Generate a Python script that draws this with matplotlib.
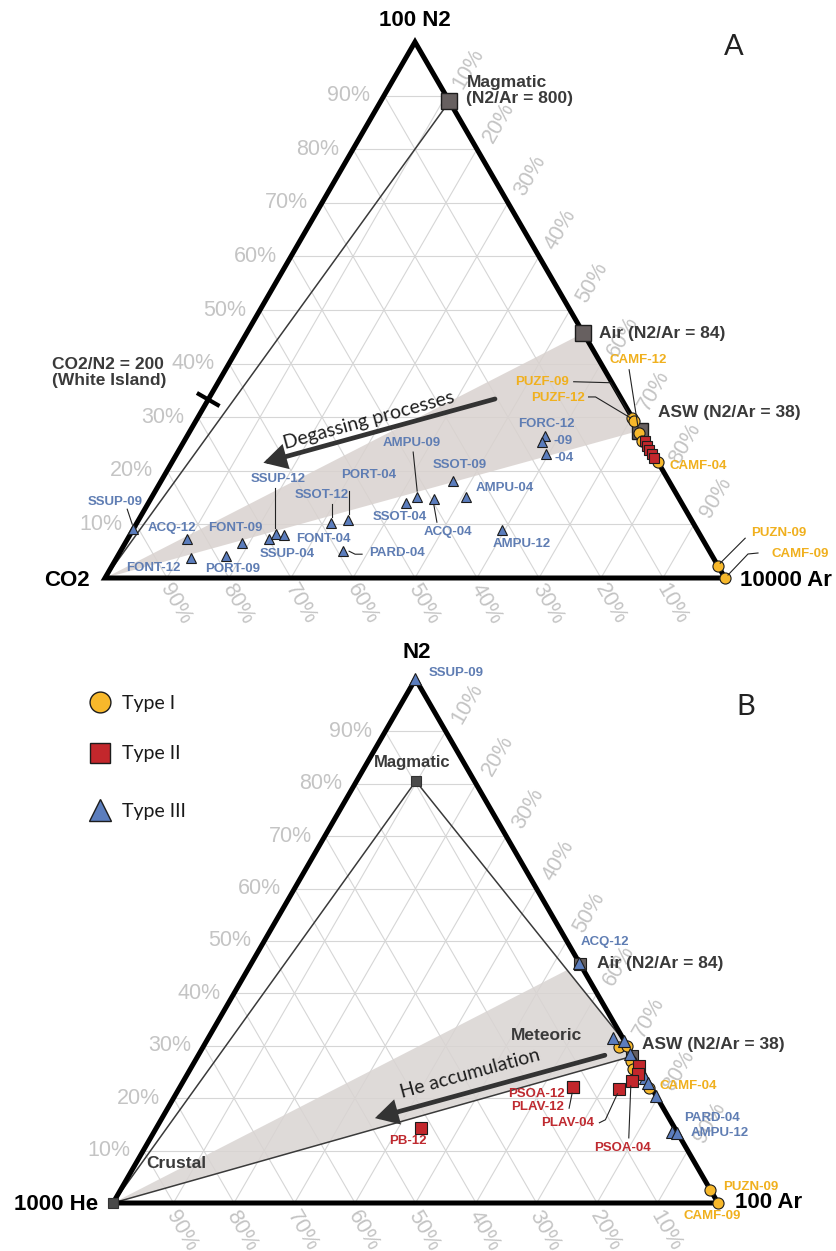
import numpy as np
import matplotlib
matplotlib.use('Agg')
import matplotlib.pyplot as plt
from matplotlib.patches import Polygon, FancyArrowPatch

# ------------------------------------------------------------------ data
# Panel A : CO2 - 100*N2 - 10000*Ar  (percent; CO2 = 100 - N2 - Ar)
A3_names = ['SSUP-09', 'ACQ-12', 'FONT-12', 'FONT-09', 'PORT-09', 'SSUP-04', 'SSUP-12',
            'FONT-04', 'SSOT-12', 'PORT-04', 'PARD-04', 'SSOT-04', 'AMPU-09', 'ACQ-04',
            'SSOT-09', 'AMPU-04', 'AMPU-12', 'FORC-12', '-09', '-04']
A3_n2 = [9.1, 7.3, 3.7, 6.5, 4.1, 7.3, 8.2, 8.0, 10.3, 10.8, 5.0, 14.0, 15.1, 14.7,
         18.1, 15.1, 9.0, 26.5, 25.4, 23.1]
A3_ar = [0.0, 9.6, 12.0, 18.8, 17.5, 22.8, 23.5, 24.9, 31.3, 33.8, 35.9, 41.5, 42.8, 45.7,
         47.1, 50.7, 59.5, 57.7, 57.8, 59.6]

A1_names = ['PUZF-09', 'PUZF-12', 'CAMF-12', '', 'CAMF-04', 'PUZN-09', 'CAMF-09']
A1_n2 = [29.9, 29.3, 27.1, 25.6, 21.6, 2.2, 0.0]
A1_ar = [70.0, 70.6, 72.6, 73.8, 78.4, 97.8, 100.0]

A2_n2 = [25.5, 24.7, 23.9, 23.1, 22.4]
A2_ar = [74.3, 75.0, 75.8, 76.6, 77.3]

A_ref_names = ['Magmatic', 'Air', 'ASW']
A_ref_n2 = [88.9, 45.7, 27.5]
A_ref_ar = [11.1, 54.3, 72.5]
A_white_island_n2 = 33.3

# Panel B : 1000*He - N2 - 100*Ar  (percent; He = 100 - N2 - Ar)
B3_names = ['SSUP-09', 'ACQ-12', '', '', '', '', '', '', '', 'PARD-04', 'AMPU-12']
B3_n2 = [100.0, 45.8, 31.5, 30.9, 28.4, 26.0, 23.9, 22.9, 20.4, 13.5, 13.4]
B3_ar = [0.0, 54.2, 66.9, 69.0, 71.2, 73.8, 76.0, 77.0, 79.6, 85.6, 86.6]

B1_names = ['', '', '', '', 'CAMF-04', 'PUZN-09', 'CAMF-09']
B1_n2 = [29.8, 30.0, 27.1, 25.6, 21.9, 2.5, 0.0]
B1_ar = [68.7, 70.0, 72.1, 73.2, 77.6, 97.5, 100.0]

B2_names = ['', '', 'PSOA-04', 'PLAV-04', 'PSOA-12', 'PLAV-12', 'PB-12']
B2_n2 = [26.1, 24.6, 23.3, 21.8, 22.1, 22.1, 14.3]
B2_ar = [73.9, 74.5, 74.1, 72.8, 65.0, 65.0, 43.8]

B_ref_names = ['Magmatic', 'Air', 'ASW', 'Meteoric', 'Crustal']
B_ref_n2 = [80.5, 45.7, 28.0, 30.5, 0.0]
B_ref_ar = [9.8, 54.3, 71.8, 69.5, 0.0]

tick_values = [10, 20, 30, 40, 50, 60, 70, 80, 90]

# ------------------------------------------------------------------ style
BLUE_F, BLUE_T = '#5b7dbd', '#5f7db3'
YEL_F, YEL_T = '#f7b82b', '#f0b01e'
RED_F, RED_T = '#c3272c', '#bf2a30'
REF_F = '#676060'
EDGE = '#1c1c1c'
GRID = '#d6d6d6'
TICK = '#c4c4c4'
ANN = '#3a3a3a'
BOLD = 'Liberation Sans'
CAL = 'Lato'

W, H = 837, 1251
fig = plt.figure(figsize=(W / 100, H / 100), dpi=100)
fig.patch.set_facecolor('white')
ax = fig.add_axes([0, 0, 1, 1])
ax.set_xlim(0, W)
ax.set_ylim(H, 0)
ax.axis('off')

VA = {'L': (105, 578), 'T': (415, 42), 'R': (725, 578)}
VB = {'L': (113, 1203), 'T': (415.5, 679), 'R': (718, 1203)}


def tpos(V, n2, ar):
    n = np.asarray(n2, float) / 100.0
    a = np.asarray(ar, float) / 100.0
    c = 1 - n - a
    x = c * V['L'][0] + n * V['T'][0] + a * V['R'][0]
    y = c * V['L'][1] + n * V['T'][1] + a * V['R'][1]
    return x, y


def frame(V, left_off, right_off, bot_off):
    for f in tick_values:
        for n2s, ars in (([f, f], [0, 100 - f]), ([0, 100 - f], [f, f]),
                         ([0, 100 - f], [100 - f, 0])):
            x, y = tpos(V, n2s, ars)
            ax.plot(x, y, color=GRID, lw=0.8, zorder=1)
        x, y = tpos(V, f, 0)
        ax.text(x + left_off[0], y + left_off[1], f'{f}%', ha='right', va='center',
                fontsize=15.5, color=TICK, family=BOLD, zorder=1)
        x, y = tpos(V, 100 - f, f)
        ax.text(x + right_off[0], y + right_off[1], f'{f}%', ha='center', va='center',
                rotation=60, fontsize=15.5, color=TICK, family=BOLD, zorder=1)
        x, y = tpos(V, 0, 100 - f)
        ax.text(x + bot_off[0], y + bot_off[1], f'{f}%', ha='center', va='center',
                rotation=-60, fontsize=15.5, color=TICK, family=BOLD, zorder=1)
    pts = np.array([V['L'], V['T'], V['R']])
    ax.add_patch(Polygon(pts, closed=True, fill=False, ec='black', lw=3.6,
                         joinstyle='miter', zorder=3))


def pts_plot(V, n2, ar, marker, ms, fc, z):
    x, y = tpos(V, n2, ar)
    ax.plot(x, y, ls='none', marker=marker, ms=ms, mfc=fc, mec=EDGE, mew=0.8, zorder=z)
    return x, y


def labels(xs, ys, layout, color, fs=9.5):
    for (x, y), item in zip(zip(xs, ys), layout):
        if item is None:
            continue
        text, dx, dy, ha, leader = item
        ax.text(x + dx, y + dy, text, ha=ha, va='center', fontsize=fs, color=color,
                family=BOLD, fontweight='bold', zorder=8)
        if leader:
            lx = [x + p[0] for p in leader]
            ly = [y + p[1] for p in leader]
            ax.plot(lx, ly, color='#222222', lw=0.8, zorder=7)


def arrow_with_text(V, tail, tip, text, toff):
    xt, yt = tpos(V, tail[0], tail[1])
    xh, yh = tpos(V, tip[0], tip[1])
    ax.add_patch(FancyArrowPatch((xt, yt), (xh, yh),
                                 arrowstyle='-|>,head_length=0.9,head_width=0.5',
                                 mutation_scale=13, lw=3.4, color='#333333',
                                 joinstyle='miter', shrinkA=0, shrinkB=0, zorder=6))
    ang = np.degrees(np.arctan2(-(yt - yh), xt - xh))
    ax.text((xt + xh) / 2 + toff[0], (yt + yh) / 2 + toff[1], text, rotation=ang,
            rotation_mode='anchor', ha='center', va='center', fontsize=14,
            family=CAL, color='#1e1e1e', zorder=6)

# ================================================================= Panel A
frame(VA, (-14, 0), (22, -27), (9, 26))
rx, ry = tpos(VA, A_ref_n2, A_ref_ar)
# shaded degassing wedge: CO2 vertex - Air - ASW
ax.add_patch(Polygon([VA['L'], (rx[1], ry[1]), (rx[2], ry[2])], closed=True,
                     fc='#d9d2cf', ec='none', alpha=0.85, zorder=2))
# magmatic mixing line
ax.plot([VA['L'][0], rx[0]], [VA['L'][1], ry[0]], color='#3a3a3a', lw=1.1, zorder=2)
# White Island tick
wx, wy = tpos(VA, A_white_island_n2, 0)
perp = np.array([0.866, 0.5]) * 11
ax.plot([wx - perp[0], wx + perp[0]], [wy - perp[1], wy + perp[1]], color='black',
        lw=3, zorder=4)
ax.text(wx - 156, wy - 27, 'CO2/N2 = 200\n(White Island)', ha='left', va='center',
        fontsize=12.5, fontweight='bold', family=BOLD, color=ANN, linespacing=1.15,
        zorder=6)

arrow_with_text(VA, (33.4, 46.2), (21.5, 14.8), 'Degassing processes', (-10, -11))

ax.plot(rx, ry, ls='none', marker='s', ms=12, mfc=REF_F, mec=EDGE, mew=1.0, zorder=4)
ax.text(rx[0] + 17, ry[0] - 11, 'Magmatic\n(N2/Ar = 800)', ha='left', va='center',
        fontsize=12.5, fontweight='bold', family=BOLD, color=ANN, linespacing=1.1,
        zorder=6)
ax.text(rx[1] + 16, ry[1], 'Air (N2/Ar = 84)', ha='left', va='center', fontsize=12.5,
        fontweight='bold', family=BOLD, color=ANN, zorder=6)
ax.text(rx[2] + 18, ry[2] - 18, 'ASW (N2/Ar = 38)', ha='left', va='center',
        fontsize=12.5, fontweight='bold', family=BOLD, color=ANN, zorder=6)

x3, y3 = pts_plot(VA, A3_n2, A3_ar, '^', 7.5, BLUE_F, 5)
A3_layout = [
    ('SSUP-09', -18, -27, 'center', [(-6, -20), (-1, -5)]),
    ('ACQ-12', -15, -11, 'center', None),
    ('FONT-12', -38, 10, 'center', None),
    ('FONT-09', -6, -15, 'center', None),
    ('PORT-09', 6, 13, 'center', None),
    ('SSUP-04', 18, 15, 'center', None),
    ('SSUP-12', 2, -55, 'center', [(-1, -46), (-1, -6)]),
    ('FONT-04', 39, 4, 'center', None),
    ('SSOT-12', -9, -28, 'center', [(1, -19), (1, -6)]),
    ('PORT-04', 21, -45, 'center', [(1, -29), (1, -6)]),
    ('PARD-04', 54, 2, 'center', [(19, 3), (12, 3), (6, 0)]),
    ('SSOT-04', -6, 14, 'center', None),
    ('AMPU-09', -5, -54, 'center', [(-4, -45), (0, -6)]),
    ('ACQ-04', 14, 33, 'center', [(3, 23), (0, 6)]),
    ('SSOT-09', 7, -16, 'center', None),
    ('AMPU-04', 39, -9, 'center', None),
    ('AMPU-12', 20, 14, 'center', None),
    ('FORC-12', 1, -12, 'center', None),
    ('-09', 11, -1, 'left', None),
    ('-04', 8, 4, 'left', None),
]
labels(x3, y3, A3_layout, BLUE_T)

x1, y1 = pts_plot(VA, A1_n2, A1_ar, 'o', 8, YEL_F, 5)
pts_plot(VA, A2_n2, A2_ar, 's', 7, RED_F, 6)
A1_layout = [
    ('PUZF-09', -90, -36, 'center', [(-58, -36), (-21, -35), (-2, -3)]),
    ('PUZF-12', -76, -23, 'center', [(-45, -24), (-38, -24), (-3, -3)]),
    ('CAMF-12', -1, -73, 'center', [(-10, -63), (-1, -5)]),
    None,
    ('CAMF-04', 40, 4, 'center', None),
    ('PUZN-09', 61, -33, 'center', [(27, -28), (2, -3)]),
    ('CAMF-09', 75, -24, 'center', [(33, -25), (23, -24), (3, -3)]),
]
labels(x1, y1, A1_layout, YEL_T)

ax.text(VA['T'][0], VA['T'][1] - 21, '100 N2', ha='center', va='center', fontsize=16,
        fontweight='bold', family=BOLD, color='black', zorder=6)
ax.text(VA['L'][0] - 15, VA['L'][1] + 2, 'CO2', ha='right', va='center', fontsize=16,
        fontweight='bold', family=BOLD, color='black', zorder=6)
ax.text(VA['R'][0] + 15, VA['R'][1] + 2, '10000 Ar', ha='left', va='center',
        fontsize=16, fontweight='bold', family=BOLD, color='black', zorder=6)
ax.text(734, 47, 'A', ha='center', va='center', fontsize=21, family=CAL,
        color='#222222')

# ================================================================= Panel B
frame(VB, (-13, 0), (22, -28), (8, 28))
bx, by = tpos(VB, B_ref_n2, B_ref_ar)
mag, air, asw, met, cru = [(bx[i], by[i]) for i in range(5)]


def intersect(p1, p2, p3, p4):
    p1, p2, p3, p4 = map(np.asarray, (p1, p2, p3, p4))
    d1, d2 = p2 - p1, p4 - p3
    t = np.cross(p3 - p1, d2) / np.cross(d1, d2)
    return p1 + t * d1


xa = intersect(cru, air, mag, met)
ax.add_patch(Polygon([cru, tuple(xa), met, asw], closed=True, fc='#d9d4d2', ec='none',
                     alpha=0.85, zorder=2))
ax.plot([cru[0], mag[0], met[0]], [cru[1], mag[1], met[1]], color='#3a3a3a', lw=1.1,
        zorder=2)
ax.plot([cru[0], asw[0]], [cru[1], asw[1]], color='#3a3a3a', lw=1.1, zorder=2)

arrow_with_text(VB, (28.2, 67.2), (16.2, 35.2), 'He accumulation', (-20, -13))

ax.plot([mag[0], cru[0]], [mag[1], cru[1]], ls='none', marker='s', ms=7, mfc='#4a4a4a',
        mec='#333333', mew=0.8, zorder=4)
ax.plot([air[0], asw[0]], [air[1], asw[1]], ls='none', marker='s', ms=8, mfc=REF_F,
        mec=EDGE, mew=0.8, zorder=4)
ax.text(mag[0] - 4, mag[1] - 19, 'Magmatic', ha='center', va='center', fontsize=12,
        fontweight='bold', family=BOLD, color=ANN, zorder=6)
ax.text(air[0] + 17, air[1], 'Air (N2/Ar = 84)', ha='left', va='center', fontsize=12.5,
        fontweight='bold', family=BOLD, color=ANN, zorder=6)
ax.text(asw[0] + 10, asw[1] - 12, 'ASW (N2/Ar = 38)', ha='left', va='center',
        fontsize=12.5, fontweight='bold', family=BOLD, color=ANN, zorder=6)
ax.text(met[0] - 79, met[1] - 8, 'Meteoric', ha='center', va='center', fontsize=12.5,
        fontweight='bold', family=BOLD, color=ANN, zorder=6)
ax.text(cru[0] + 63, cru[1] - 40, 'Crustal', ha='center', va='center', fontsize=12.5,
        fontweight='bold', family=BOLD, color=ANN, zorder=6)

x1, y1 = pts_plot(VB, B1_n2, B1_ar, 'o', 8, YEL_F, 5)
x2, y2 = pts_plot(VB, B2_n2, B2_ar, 's', 8, RED_F, 5.5)
x3, y3 = pts_plot(VB, B3_n2, B3_ar, '^', 8, BLUE_F, 5.2)

B3_layout = [
    ('SSUP-09', 41, -6, 'center', None),
    ('ACQ-12', 25, -21, 'center', None),
    None, None, None, None, None, None, None,
    ('PARD-04', 40, -14, 'center', None),
    ('AMPU-12', 42, 0, 'center', None),
]
labels(x3, y3, B3_layout, BLUE_T)
B1_layout = [None, None, None, None,
             ('CAMF-04', 40, -2, 'center', None),
             ('PUZN-09', 40, -3, 'center', None),
             ('CAMF-09', -6, 13, 'center', None)]
labels(x1, y1, B1_layout, YEL_T)
B2_layout = [None, None,
             ('PSOA-04', -9, 67, 'center', [(-3, 57), (-1, 5)]),
             ('PLAV-04', -52, 34, 'center', [(-20, 34), (-14, 31), (-2, 5)]),
             ('PSOA-12', -37, 7, 'center', None),
             ('PLAV-12', -36, 20, 'center', [(-4, 21), (-1, 6)]),
             ('PB-12', -13, 13, 'center', None)]
labels(x2, y2, B2_layout, RED_T)

ax.text(VB['T'][0] + 1, VB['T'][1] - 26, 'N2', ha='center', va='center', fontsize=16,
        fontweight='bold', family=BOLD, color='black', zorder=6)
ax.text(VB['L'][0] - 15, VB['L'][1] + 1, '1000 He', ha='right', va='center',
        fontsize=16, fontweight='bold', family=BOLD, color='black', zorder=6)
ax.text(VB['R'][0] + 17, VB['R'][1], '100 Ar', ha='left', va='center', fontsize=16,
        fontweight='bold', family=BOLD, color='black', zorder=6)
ax.text(746, 707, 'B', ha='center', va='center', fontsize=21, family=CAL,
        color='#222222')

# legend
leg_items = [('o', 15, YEL_F, 'Type I', 702), ('s', 15, RED_F, 'Type II', 753),
             ('^', 16, BLUE_F, 'Type III', 810)]
for mk, ms, fc, txt, ly in leg_items:
    ax.plot([100], [ly], marker=mk, ms=ms, mfc=fc, mec=EDGE, mew=1.0, ls='none',
            zorder=6)
    ax.text(122, ly + 1, txt, ha='left', va='center', fontsize=14, family=CAL,
            color='#1a1a1a', zorder=6)

fig.savefig('out.png', dpi=100, facecolor='white')
